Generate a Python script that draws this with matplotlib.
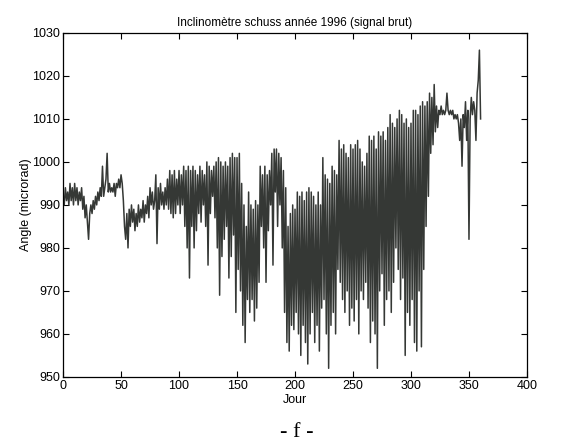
import matplotlib
matplotlib.use('Agg')
from matplotlib import pyplot as plt

# --- Data (one value per day) --- #
days = list(range(0, 361))
angle = [
    992, 990, 994, 991, 993, 990, 995, 991, 994, 990,          # 0-9
    995, 991, 994, 990, 993, 991, 994, 989, 992, 987,          # 10-19
    990, 986, 982, 988, 990, 988, 991, 989, 992, 990,          # 20-29
    993, 991, 994, 992, 999, 992, 994, 996, 1002, 993,         # 30-39
    995, 993, 994, 993, 995, 992, 995, 994, 996, 994,          # 40-49
    997, 995, 991, 985, 982, 988, 980, 989, 985, 990,          # 50-59
    986, 989, 984, 988, 985, 990, 986, 989, 987, 991,          # 60-69
    986, 990, 988, 992, 987, 994, 990, 993, 989, 991,          # 70-79
    997, 981, 994, 989, 995, 990, 993, 989, 994, 990,          # 80-89
    996, 989, 998, 988, 997, 987, 998, 988, 996, 990,          # 90-99
    998, 988, 997, 990, 999, 985, 998, 980, 999, 973,          # 100-109
    998, 985, 999, 980, 998, 984, 997, 988, 999, 986,          # 110-119
    998, 990, 997, 985, 1000, 976, 999, 988, 998, 992,         # 120-129
    999, 987, 1000, 980, 1001, 969, 1000, 978, 999, 982,       # 130-139
    1000, 985, 999, 973, 1001, 978, 1002, 983, 1001, 965,      # 140-149
    1001, 975, 1002, 970, 995, 962, 990, 958, 985, 968,        # 150-159
    993, 965, 990, 968, 989, 963, 991, 966, 990, 972,          # 160-169
    999, 985, 997, 980, 999, 972, 997, 984, 998, 990,          # 170-179
    1002, 976, 1003, 993, 1003, 985, 1002, 990, 1001, 980,     # 180-189
    998, 965, 994, 958, 985, 956, 988, 962, 990, 961,          # 190-199
    989, 965, 993, 960, 992, 955, 993, 962, 991, 958,          # 200-209
    993, 953, 994, 960, 993, 965, 992, 958, 990, 962,          # 210-219
    993, 956, 990, 966, 1001, 968, 997, 960, 996, 952,         # 220-229
    995, 962, 999, 965, 998, 960, 997, 975, 1005, 972,         # 230-239
    1003, 968, 1004, 965, 1002, 970, 1001, 962, 1004, 966,     # 240-249
    1003, 963, 1004, 968, 1005, 960, 1003, 970, 1000, 968,     # 250-259
    999, 972, 1002, 966, 1006, 958, 1005, 963, 1006, 960,      # 260-269
    1003, 952, 1007, 970, 1006, 974, 1007, 962, 1005, 968,     # 270-279
    1008, 970, 1011, 965, 1009, 972, 1008, 980, 1010, 975,     # 280-289
    1012, 968, 1011, 973, 1009, 955, 1010, 965, 1008, 962,     # 290-299
    1009, 968, 1012, 958, 1012, 956, 1011, 970, 1013, 957,     # 300-309
    1014, 975, 1013, 985, 1014, 992, 1016, 1002, 1015, 1004,   # 310-319
    1018, 1007, 1013, 1008, 1012, 1011, 1013, 1011, 1012, 1011,  # 320-329
    1012, 1016, 1012, 1011, 1012, 1011, 1012, 1010, 1011, 1010,  # 330-339
    1011, 1009, 1005, 1010, 999, 1011, 1008, 1014, 1005, 1012,   # 340-349
    982, 1010, 1015, 1011, 1014, 1012, 1005, 1016, 1019, 1026,   # 350-359
    1010,                                                        # 360
]

x_ticks = [0, 50, 100, 150, 200, 250, 300, 350, 400]
y_ticks = [950, 960, 970, 980, 990, 1000, 1010, 1020, 1030]

plt.rcParams['font.family'] = ['Liberation Sans', 'DejaVu Sans']

fig = plt.figure(figsize=(5.63, 4.45), dpi=100)
ax = fig.add_axes([0.112, 0.153, 0.824, 0.773])

ax.plot(days, angle, color='#353835', linewidth=1.1)

ax.set_xlim(0, 400)
ax.set_ylim(950, 1030)
ax.set_xticks(x_ticks)
ax.set_yticks(y_ticks)
ax.tick_params(direction='in', top=True, right=True, labelsize=9, length=4, width=0.8, pad=2)
for spine in ax.spines.values():
    spine.set_linewidth(0.9)

ax.set_title('Inclinomètre schuss année 1996 (signal brut)', fontsize=8.5, pad=5)
ax.set_xlabel('Jour', fontsize=9, labelpad=2)
ax.set_ylabel('Angle (microrad)', fontsize=9, labelpad=0)

fig.text(0.527, 0.018, '- f -', fontsize=16, family='Liberation Serif', ha='center')

fig.savefig('out.png', dpi=100)
